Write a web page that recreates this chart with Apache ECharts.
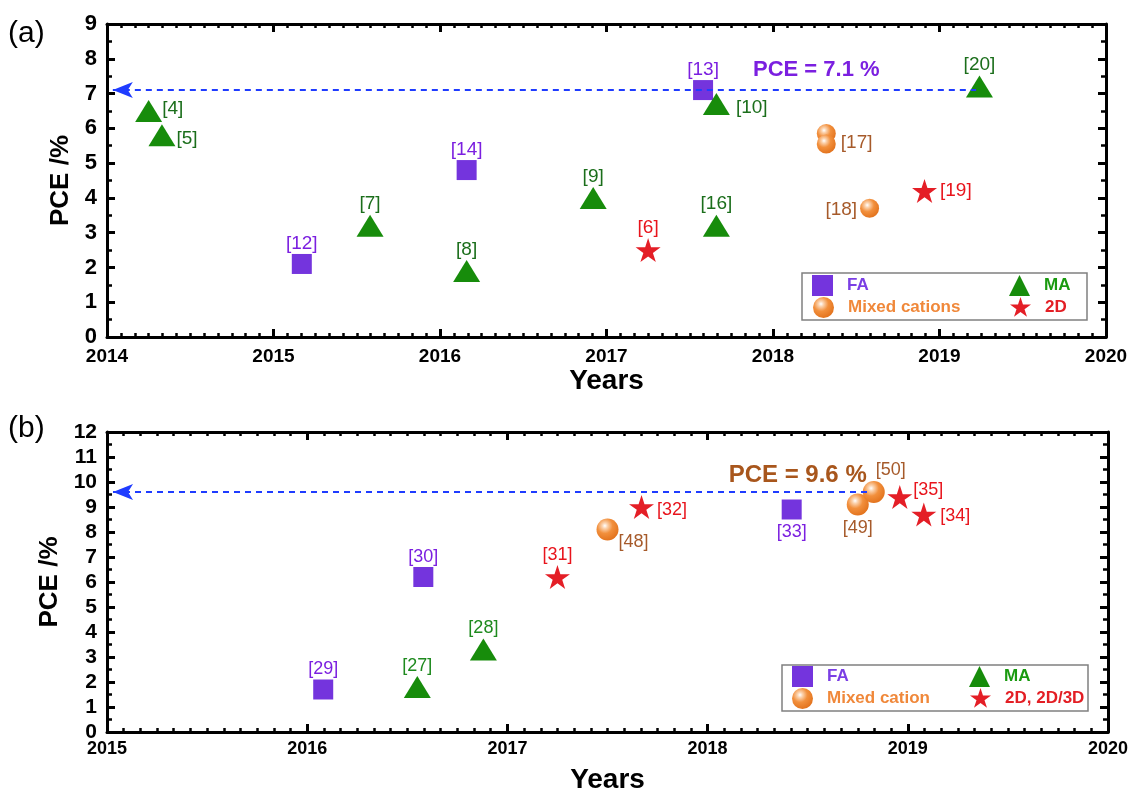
<!DOCTYPE html>
<html>
<head>
<meta charset="utf-8">
<script src="https://cdn.jsdelivr.net/npm/echarts/dist/echarts.min.js"></script>
<style>
html,body{margin:0;padding:0;background:#fff;}
#chart{width:1129px;height:792px;}
</style>
</head>
<body>
<div id="chart"></div>
<script>
// ---------- DATA: panel (a) ----------
const faA_year = [2015.17, 2016.16, 2017.58];
const faA_pce  = [2.1, 4.8, 7.1];
const faA_ref  = ['[12]', '[14]', '[13]'];

const maA_year = [2014.25, 2014.33, 2015.58, 2016.16, 2016.92, 2017.66, 2017.66, 2019.24];
const maA_pce  = [6.5, 5.8, 3.2, 1.9, 4.0, 3.2, 6.7, 7.2];
const maA_ref  = ['[4]', '[5]', '[7]', '[8]', '[9]', '[16]', '[10]', '[20]'];

const mixA_year = [2018.32, 2018.32, 2018.58];
const mixA_pce  = [5.85, 5.55, 3.7];
const mixA_ref  = ['', '[17]', '[18]'];

const d2A_year = [2017.25, 2018.91];
const d2A_pce  = [2.5, 4.2];
const d2A_ref  = ['[6]', '[19]'];

const bestA_years = [2014.035, 2019.22];
const bestA_pce = 7.1;
const bestA_text = 'PCE = 7.1 %';
const bestA_textAt = [2018.26, 7.67];

const xTicksA = [2014, 2020];
const yTicksA = [0, 9];

// ---------- DATA: panel (b) ----------
const faB_year = [2016.08, 2016.58, 2018.42];
const faB_pce  = [1.7, 6.2, 8.9];
const faB_ref  = ['[29]', '[30]', '[33]'];

const maB_year = [2016.55, 2016.88];
const maB_pce  = [1.8, 3.3];
const maB_ref  = ['[27]', '[28]'];

const mixB_year = [2017.5, 2018.75, 2018.83];
const mixB_pce  = [8.1, 9.1, 9.6];
const mixB_ref  = ['[48]', '[49]', '[50]'];

const d2B_year = [2017.25, 2017.67, 2018.96, 2019.08];
const d2B_pce  = [6.2, 9.0, 9.4, 8.7];
const d2B_ref  = ['[31]', '[32]', '[35]', '[34]'];

const bestB_years = [2015.03, 2018.8];
const bestB_pce = 9.6;
const bestB_text = 'PCE = 9.6 %';
const bestB_textAt = [2018.45, 10.28];

const xTicksB = [2015, 2020];
const yTicksB = [0, 12];

// ---------- STYLE ----------
const FONT = "'Liberation Sans', Arial, Helvetica, sans-serif";
const STAR = 'path://M50,2 L61.2,36.2 L97.6,36.2 L68.2,57.4 L79.4,91.6 L50,70.4 L20.6,91.6 L31.8,57.4 L2.4,36.2 L38.8,36.2 Z';
const sphere = {
  type: 'radial', x: 0.38, y: 0.33, r: 0.7,
  colorStops: [
    {offset: 0, color: '#ffffff'},
    {offset: 0.18, color: '#fbd2ad'},
    {offset: 0.5, color: '#f2903d'},
    {offset: 1, color: '#e2721c'}
  ]
};
const labelPlace = {
  '[4]':  {position: 'right', distance: 0, offset: [0, -2]},
  '[5]':  {position: 'right', distance: 1, offset: [0, 3]},
  '[10]': {position: 'right', distance: 6, offset: [0, 4]},
  '[17]': {position: 'right', distance: 5, offset: [0, -1]},
  '[18]': {position: 'left',  distance: 3, offset: [0, 1]},
  '[19]': {position: 'right', distance: 3, offset: [0, 0]},
  '[32]': {position: 'right', distance: 3, offset: [0, 3]},
  '[48]': {position: 'right', distance: 0, offset: [0, 13]},
  '[33]': {position: 'bottom', distance: 4, offset: [0, 0]},
  '[49]': {position: 'bottom', distance: 4, offset: [0, 0]},
  '[50]': {position: 'top',   distance: 2, offset: [17, 0]},
  '[35]': {position: 'right', distance: 1, offset: [0, -7]},
  '[34]': {position: 'right', distance: 4, offset: [0, 2]}
};

function makeSeries(name, years, pces, refs, g, symbol, size, color, labelColor, fontSize, extra) {
  const s = {
    type: 'scatter', name: name,
    xAxisIndex: g * 2, yAxisIndex: g * 2,
    symbol: symbol, symbolSize: size,
    itemStyle: {color: color, opacity: 1},
    emphasis: {disabled: true},
    z: 3,
    data: years.map((x, i) => {
      const p = labelPlace[refs[i]] || {position: 'top', distance: 1, offset: [0, 0]};
      return {
        value: [x, pces[i]],
        label: {
          show: refs[i] !== '', formatter: refs[i],
          position: p.position, distance: p.distance, offset: p.offset,
          color: labelColor, fontSize: fontSize, fontFamily: FONT
        }
      };
    })
  };
  return Object.assign(s, extra || {});
}

function bestLine(years, pce) {
  return {
    silent: true,
    symbol: ['arrow', 'none'],
    symbolSize: [12, 20],
    lineStyle: {color: '#1f3cff', width: 2, type: [6, 5]},
    label: {show: false},
    data: [[{coord: [years[0], pce]}, {coord: [years[1], pce]}]]
  };
}
function bestText(text, textAt, textColor, fontSize) {
  return {
    silent: true,
    symbol: 'circle', symbolSize: 0,
    label: {show: true, position: 'inside', formatter: text, color: textColor,
            fontSize: fontSize, fontWeight: 'bold', fontFamily: FONT},
    data: [{coord: textAt}]
  };
}

function xAxes(g, ticks, nameGap, labelMargin, fontSize) {
  const base = {
    gridIndex: g, type: 'value', min: ticks[0], max: ticks[1], interval: 1,
    axisLine: {show: true, onZero: false, lineStyle: {color: '#000', width: 3}},
    axisTick: {show: true, inside: true, length: 8, lineStyle: {color: '#000', width: 3}},
    minorTick: {show: true, splitNumber: 12, length: 4, lineStyle: {color: '#000', width: 2.5}},
    splitLine: {show: false}, minorSplitLine: {show: false}
  };
  return [
    Object.assign({}, base, {
      position: 'bottom',
      axisLabel: {show: true, fontSize: fontSize, fontWeight: 'bold', color: '#000', margin: labelMargin,
                  fontFamily: FONT, formatter: v => String(v)},
      name: 'Years', nameLocation: 'middle', nameGap: nameGap,
      nameTextStyle: {fontSize: 28, fontWeight: 'bold', color: '#000', fontFamily: FONT}
    }),
    Object.assign({}, base, {position: 'top', axisLabel: {show: false}})
  ];
}
function yAxes(g, ticks, nameGap, fontSize) {
  const base = {
    gridIndex: g, type: 'value', min: ticks[0], max: ticks[1], interval: 1,
    axisLine: {show: true, onZero: false, lineStyle: {color: '#000', width: 3}},
    axisTick: {show: true, inside: true, length: 8, lineStyle: {color: '#000', width: 3}},
    minorTick: {show: true, splitNumber: 2, length: 5, lineStyle: {color: '#000', width: 2.5}},
    splitLine: {show: false}, minorSplitLine: {show: false}
  };
  return [
    Object.assign({}, base, {
      position: 'left',
      axisLabel: {show: true, fontSize: fontSize, fontWeight: 'bold', color: '#000', margin: 10, fontFamily: FONT},
      name: 'PCE /%', nameLocation: 'middle', nameGap: nameGap, nameRotate: 90,
      nameTextStyle: {fontSize: 26, fontWeight: 'bold', color: '#000', fontFamily: FONT}
    }),
    Object.assign({}, base, {position: 'right', axisLabel: {show: false}})
  ];
}

function legendItem(name, color, left, top) {
  return {
    left: left, top: top, padding: 0, orient: 'horizontal',
    itemWidth: 21, itemHeight: 21, selectedMode: false,
    textStyle: {fontSize: 17, fontWeight: 'bold', fontFamily: FONT, color: color, padding: [0, 0, 0, 9]},
    data: [{name: name, textStyle: {color: color}}]
  };
}

const C_FA = '#7434dd', C_MA = '#178c0b', C_2D = '#e41e26';

const series = [
  makeSeries('FA', faA_year, faA_pce, faA_ref, 0, 'rect', 20, C_FA, '#7b1fe0', 19,
    {markLine: bestLine(bestA_years, bestA_pce), markPoint: bestText(bestA_text, bestA_textAt, '#7b1fe0', 22)}),
  makeSeries('MA', maA_year, maA_pce, maA_ref, 0, 'triangle', [27, 22], C_MA, '#1b6e1b', 19),
  makeSeries('Mixed cations', mixA_year, mixA_pce, mixA_ref, 0, 'circle', 19, sphere, '#a65a2a', 19),
  makeSeries('2D', d2A_year, d2A_pce, d2A_ref, 0, STAR, [25, 24], C_2D, '#e8141c', 19),

  makeSeries('FA', faB_year, faB_pce, faB_ref, 1, 'rect', 20, C_FA, '#7b1fe0', 18,
    {markLine: bestLine(bestB_years, bestB_pce), markPoint: bestText(bestB_text, bestB_textAt, '#a8561c', 24)}),
  makeSeries('MA', maB_year, maB_pce, maB_ref, 1, 'triangle', [27, 22], C_MA, '#1e8a1e', 18),
  makeSeries('Mixed cation', mixB_year, mixB_pce, mixB_ref, 1, 'circle', 22, sphere, '#a65a2a', 18),
  makeSeries('2D, 2D/3D', d2B_year, d2B_pce, d2B_ref, 1, STAR, [25, 24], C_2D, '#e8141c', 18)
];

const option = {
  animation: false,
  backgroundColor: '#fff',
  grid: [
    {left: 107, top: 24, width: 999, height: 313, outerBoundsMode: 'none', containLabel: false},
    {left: 107, top: 432, width: 1001, height: 300, outerBoundsMode: 'none', containLabel: false}
  ],
  xAxis: xAxes(0, xTicksA, 30, 10, 19).concat(xAxes(1, xTicksB, 34, 8, 18)),
  yAxis: yAxes(0, yTicksA, 27, 22).concat(yAxes(1, yTicksB, 38, 21)),
  legend: [
    legendItem('FA', '#7b3fe4', 812, 275),
    legendItem('MA', '#1a9a10', 1009, 275),
    legendItem('Mixed cations', '#f0883a', 813, 297),
    legendItem('2D', '#e31e24', 1010, 297),
    legendItem('FA', '#7b3fe4', 792, 666),
    legendItem('MA', '#1a9a10', 969, 666),
    legendItem('Mixed cation', '#f0883a', 792, 688),
    legendItem('2D, 2D/3D', '#e31e24', 970, 688)
  ],
  graphic: [
    {type: 'text', left: 8, top: 19, style: {text: '(a)', fontSize: 30, fontFamily: FONT, fill: '#000'}},
    {type: 'text', left: 8, top: 414, style: {text: '(b)', fontSize: 30, fontFamily: FONT, fill: '#000'}},
    {type: 'rect', shape: {x: 802, y: 273, width: 285, height: 47}, style: {fill: 'none', stroke: '#808080', lineWidth: 1.5}, z: 1},
    {type: 'rect', shape: {x: 782, y: 665, width: 306, height: 46}, style: {fill: 'none', stroke: '#808080', lineWidth: 1.5}, z: 1}
  ],
  series: series
};

const chart = echarts.init(document.getElementById('chart'), null, {renderer: 'canvas'});
chart.setOption(option);
</script>
</body>
</html>
